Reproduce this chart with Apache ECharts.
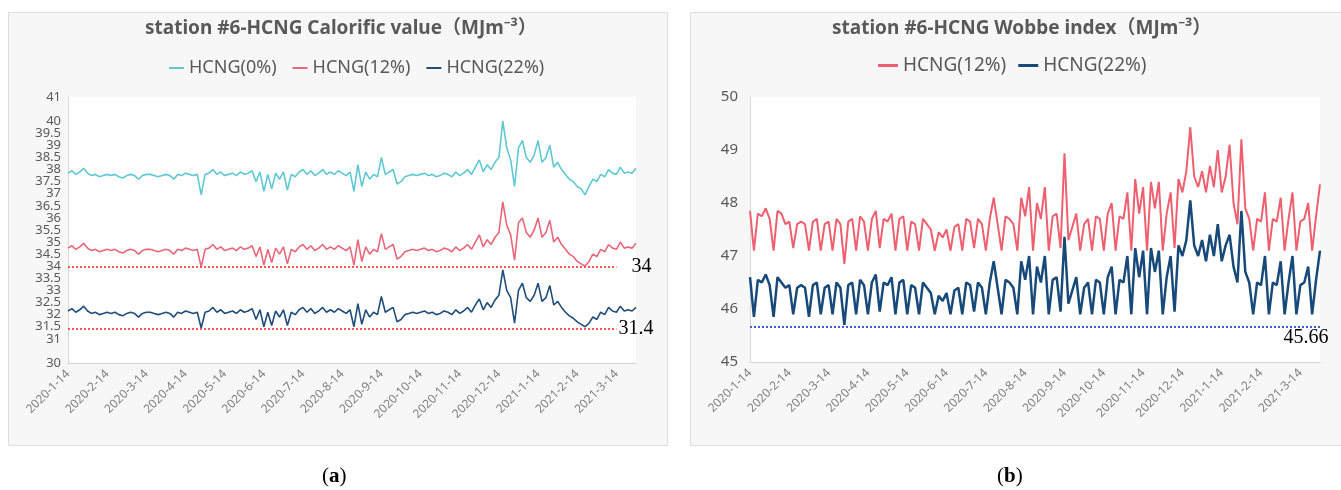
<!DOCTYPE html>
<html>
<head>
<meta charset="utf-8">
<script src="https://cdn.jsdelivr.net/npm/echarts@6/dist/echarts.min.js"></script>
<style>
  html, body { margin: 0; padding: 0; background: #ffffff; }
  #chart { width: 1341px; height: 490px; }
</style>
</head>
<body>
<div id="chart"></div>
<script>
// Month tick labels shown on both date axes
const monthTicks = ['2020-1-14', '2020-2-14', '2020-3-14', '2020-4-14', '2020-5-14', '2020-6-14',
  '2020-7-14', '2020-8-14', '2020-9-14', '2020-10-14', '2020-11-14', '2020-12-14',
  '2021-1-14', '2021-2-14', '2021-3-14'];

// Sample dates: every 3 days from the 14th of each month (146 samples)
const sampleCount = 146;
const categories = [];
monthTicks.forEach(function (t) {
  const p = t.split('-').map(Number);
  for (let j = 0; j < 10 && categories.length < sampleCount; j++) {
    const d = new Date(p[0], p[1] - 1, 14 + 3 * j);
    categories.push(d.getFullYear() + '-' + (d.getMonth() + 1) + '-' + d.getDate());
  }
});

// (a) Calorific value, MJ/m3
const calHCNG0 = [
  37.85, 37.95, 37.8, 37.9, 38.05, 37.85, 37.75, 37.8, 37.7, 37.75, 37.8,
  37.75, 37.8, 37.7, 37.65, 37.75, 37.8, 37.75, 37.6, 37.75, 37.8,
  37.8, 37.75, 37.7, 37.75, 37.8, 37.75, 37.6, 37.8, 37.75, 37.85, 37.8, 37.75, 37.8,
  36.95,
  37.8, 37.85, 38.0, 37.8, 37.9, 37.75, 37.8, 37.85, 37.75, 37.9, 37.8,
  37.85, 37.95, 37.5, 37.9, 37.1, 37.8, 37.2, 37.85, 37.6, 37.9, 37.15,
  37.8, 37.7, 37.9, 38.0, 37.8, 37.95, 37.75, 37.85, 38.0, 37.8,
  37.9, 37.8, 37.95, 37.85, 37.75, 37.9, 37.1,
  38.2, 37.3, 37.9, 37.6, 37.8, 37.7,
  38.5,
  37.8, 37.9, 38.0, 37.4, 37.5, 37.7,
  37.75, 37.8, 37.75, 37.8, 37.85, 37.75, 37.8, 37.7, 37.75, 37.85, 37.8, 37.7, 37.9, 37.75, 37.85, 38.0, 37.8,
  38.1, 38.4, 37.9, 38.2, 38.0, 38.3, 38.5, 40.0, 38.9, 38.4, 37.3, 38.9, 39.2, 38.5, 38.3, 38.6, 39.2, 38.3, 38.5, 39.0, 38.1, 38.3,
  38.0, 37.8, 37.6, 37.5, 37.3, 37.2, 36.95, 37.3, 37.6, 37.5,
  37.8, 37.7, 38.0, 37.85, 37.8, 38.1, 37.85, 37.9, 37.85, 38.05
];
const calHCNG12 = [
  34.75, 34.85, 34.7, 34.8, 34.95, 34.75, 34.65, 34.7, 34.6, 34.65, 34.7,
  34.65, 34.7, 34.6, 34.55, 34.65, 34.7, 34.65, 34.5, 34.65, 34.7,
  34.7, 34.65, 34.6, 34.65, 34.7, 34.65, 34.5, 34.7, 34.65, 34.75, 34.7, 34.65, 34.7,
  33.97,
  34.7, 34.75, 34.9, 34.7, 34.8, 34.65, 34.7, 34.75, 34.65, 34.8, 34.7,
  34.75, 34.85, 34.4, 34.8, 34.05, 34.7, 34.15, 34.75, 34.5, 34.8, 34.1,
  34.7, 34.6, 34.8, 34.9, 34.7, 34.85, 34.65, 34.75, 34.9, 34.7,
  34.8, 34.7, 34.85, 34.75, 34.65, 34.8, 34.05,
  35.1, 34.2, 34.8, 34.5, 34.7, 34.6,
  35.35,
  34.7, 34.8, 34.9, 34.3, 34.4, 34.6,
  34.65, 34.7, 34.65, 34.7, 34.75, 34.65, 34.7, 34.6, 34.65, 34.75, 34.7, 34.6, 34.8, 34.65, 34.75, 34.9, 34.7,
  35.0, 35.3, 34.8, 35.1, 34.9, 35.2, 35.4, 36.66, 35.7, 35.3, 34.25, 35.8, 36.0, 35.4, 35.2, 35.5, 36.0, 35.2, 35.4, 35.9, 35.0, 35.2,
  34.9, 34.7, 34.5, 34.4, 34.2, 34.1, 34.0, 34.2, 34.5, 34.4,
  34.7, 34.6, 34.9, 34.75, 34.7, 35.0, 34.75, 34.8, 34.75, 34.95
];
const calHCNG22 = [
  32.15, 32.25, 32.1, 32.2, 32.35, 32.15, 32.05, 32.1, 32.0, 32.05, 32.1,
  32.05, 32.1, 32.0, 31.95, 32.05, 32.1, 32.05, 31.9, 32.05, 32.1,
  32.1, 32.05, 32.0, 32.05, 32.1, 32.05, 31.9, 32.1, 32.05, 32.15, 32.1, 32.05, 32.1,
  31.45,
  32.1, 32.15, 32.3, 32.1, 32.2, 32.05, 32.1, 32.15, 32.05, 32.2, 32.1,
  32.15, 32.25, 31.8, 32.2, 31.5, 32.1, 31.55, 32.15, 31.9, 32.2, 31.55,
  32.1, 32.0, 32.2, 32.3, 32.1, 32.25, 32.05, 32.15, 32.3, 32.1,
  32.2, 32.1, 32.25, 32.15, 32.05, 32.2, 31.5,
  32.45, 31.6, 32.2, 31.9, 32.1, 32.0,
  32.75,
  32.1, 32.2, 32.3, 31.7, 31.8, 32.0,
  32.05, 32.1, 32.05, 32.1, 32.15, 32.05, 32.1, 32.0, 32.05, 32.15, 32.1, 32.0, 32.2, 32.05, 32.15, 32.3, 32.1,
  32.4, 32.65, 32.2, 32.5, 32.3, 32.6, 32.8, 33.85, 33.0, 32.7, 31.65, 33.0, 33.3, 32.7, 32.55, 32.8, 33.3, 32.55, 32.7, 33.2, 32.4, 32.55,
  32.3, 32.1, 31.95, 31.85, 31.7, 31.6, 31.5, 31.65, 31.9, 31.8,
  32.1, 32.0, 32.3, 32.15, 32.1, 32.35, 32.15, 32.2, 32.15, 32.3
];
const calLimit12 = 34;
const calLimit22 = 31.4;

// (b) Wobbe index, MJ/m3
const wobHCNG12 = [
  47.85, 47.1, 47.8, 47.75, 47.9, 47.7, 47.1, 47.85, 47.8,
  47.6, 47.65, 47.15, 47.6, 47.65, 47.6, 47.1, 47.65, 47.7, 47.1, 47.6, 47.65,
  47.1, 47.7, 47.6, 46.85, 47.65, 47.7, 47.1, 47.75, 47.65, 47.1,
  47.7, 47.85, 47.15, 47.7, 47.65, 47.8, 47.1, 47.7, 47.75, 47.1, 47.65, 47.6, 47.1, 47.7, 47.6,
  47.5, 47.1, 47.45, 47.35, 47.5, 47.1, 47.55, 47.6, 47.1, 47.7, 47.65, 47.15, 47.7, 47.6, 47.1,
  47.7, 48.1, 47.6, 47.1, 47.75, 47.7, 47.6, 47.1, 48.1, 47.75, 48.3, 47.1, 48.0, 47.7, 48.3, 47.1, 47.75, 47.8, 47.15, 48.94,
  47.3, 47.55, 47.8, 47.1, 47.6, 47.7, 47.1, 47.75, 47.7, 47.1, 47.8, 48.0, 47.1, 47.75, 47.7,
  48.2, 47.1, 48.45, 47.8, 48.3, 47.1, 48.4, 47.9, 48.4, 47.1, 47.8, 48.2, 47.15, 48.45, 48.2,
  48.6, 49.43, 48.5, 48.3, 48.6, 48.2, 48.7, 48.3, 49.0, 48.2, 48.5, 49.1, 48.0, 47.6, 49.2, 47.9, 47.7, 47.1, 47.7,
  47.65, 48.2, 47.1, 47.7, 47.65, 48.1, 47.1, 47.7, 48.2, 47.1, 47.65, 47.7, 48.0, 47.1, 47.75, 48.35
];
const wobHCNG22 = [
  46.6, 45.85, 46.55, 46.5, 46.65, 46.45, 45.85, 46.6, 46.5,
  46.4, 46.45, 45.9, 46.4, 46.45, 46.4, 45.85, 46.45, 46.5, 45.9, 46.4, 46.45,
  45.9, 46.5, 46.4, 45.7, 46.45, 46.5, 45.9, 46.55, 46.45, 45.9,
  46.5, 46.65, 45.95, 46.5, 46.45, 46.6, 45.9, 46.5, 46.55, 45.9, 46.45, 46.4, 45.9, 46.5, 46.4,
  46.3, 45.9, 46.25, 46.15, 46.3, 45.9, 46.35, 46.4, 45.9, 46.5, 46.45, 45.95, 46.5, 46.4, 45.9,
  46.5, 46.9, 46.4, 45.9, 46.55, 46.5, 46.4, 45.9, 46.9, 46.55, 47.0, 45.9, 46.8, 46.5, 47.0, 45.9, 46.55, 46.6, 45.95, 47.36,
  46.1, 46.35, 46.6, 45.9, 46.4, 46.5, 45.9, 46.55, 46.5, 45.9, 46.6, 46.8, 45.9, 46.55, 46.5,
  47.0, 45.9, 47.15, 46.6, 47.1, 45.9, 47.15, 46.7, 47.1, 45.9, 46.6, 47.0, 45.95, 47.2, 47.0,
  47.3, 48.05, 47.2, 47.0, 47.3, 46.9, 47.4, 47.0, 47.6, 46.9, 47.2, 47.4, 46.8, 46.5, 47.85, 46.7, 46.5, 45.9, 46.5,
  46.45, 47.0, 45.9, 46.5, 46.45, 46.9, 45.9, 46.5, 47.0, 45.9, 46.45, 46.5, 46.8, 45.9, 46.55, 47.1
];
const wobLimit22 = 45.66;

const textFont = '"Noto Sans", "Noto Sans CJK SC", sans-serif';
const serifFont = '"Liberation Serif", "DejaVu Serif", serif';

function dateAxis(gridIndex) {
  return {
    type: 'category', gridIndex: gridIndex, data: categories, boundaryGap: false,
    axisLine: { show: true, lineStyle: { color: '#d4d4d4', width: 1 } },
    axisTick: { show: false },
    splitLine: { show: false },
    axisLabel: {
      interval: 9, rotate: 45, margin: 9, color: '#7f7f7f',
      fontFamily: textFont, fontSize: 12
    }
  };
}

function lineSeries(name, data, color, width, axisIdx, extra) {
  return Object.assign({
    name: name, type: 'line', data: data, xAxisIndex: axisIdx, yAxisIndex: axisIdx,
    symbol: 'none', showSymbol: false, smooth: false,
    lineStyle: { color: color, width: width }, itemStyle: { color: color }
  }, extra || {});
}

const chart = echarts.init(document.getElementById('chart'), null, { renderer: 'canvas' });

chart.setOption({
  animation: false,
  backgroundColor: '#ffffff',
  title: [
    {
      text: 'station #6-HCNG Calorific value（MJm⁻³）', left: 140, top: 14,
      textStyle: { fontFamily: textFont, fontSize: 19, fontWeight: 'bold', color: '#595959' }
    },
    {
      text: 'station #6-HCNG Wobbe index（MJm⁻³）', left: 827, top: 14,
      textStyle: { fontFamily: textFont, fontSize: 19, fontWeight: 'bold', color: '#595959' }
    }
  ],
  legend: [
    {
      data: ['HCNG(0%)', 'HCNG(12%)', 'HCNG(22%)'].map(function (n) { return { name: n }; }),
      left: 164, top: 54, icon: 'rect', itemWidth: 15, itemHeight: 2, itemGap: 16,
      textStyle: { fontFamily: textFont, fontSize: 18, color: '#595959' },
      selectedMode: false
    },
    {
      data: [{ name: 'HCNG(12%) ' }, { name: 'HCNG(22%) ' }],
      left: 873, top: 51, icon: 'rect', itemWidth: 20, itemHeight: 3, itemGap: 12,
      textStyle: { fontFamily: textFont, fontSize: 19, color: '#595959' },
      formatter: function (n) { return n.trim(); },
      selectedMode: false
    }
  ],
  grid: [
    { left: 68, top: 97, width: 568, height: 266, show: true, backgroundColor: '#ffffff', borderWidth: 0 },
    { left: 750, top: 97, width: 570, height: 265, show: true, backgroundColor: '#ffffff', borderWidth: 0 }
  ],
  xAxis: [dateAxis(0), dateAxis(1)],
  yAxis: [
    {
      type: 'value', gridIndex: 0, min: 30, max: 41, interval: 0.5,
      axisLine: { show: true, lineStyle: { color: '#d9d9d9' } },
      axisTick: { show: false }, splitLine: { show: false },
      axisLabel: { margin: 7, color: '#595959', fontFamily: textFont, fontSize: 13,
        showMinLabel: true, showMaxLabel: true, hideOverlap: false }
    },
    {
      type: 'value', gridIndex: 1, min: 45, max: 50, interval: 1,
      axisLine: { show: true, lineStyle: { color: '#d9d9d9' } },
      axisTick: { show: false }, splitLine: { show: false },
      axisLabel: { margin: 12, color: '#595959', fontFamily: textFont, fontSize: 15,
        showMinLabel: true, showMaxLabel: true }
    }
  ],
  graphic: [
    { type: 'rect', z: -10, shape: { x: 8.5, y: 12.5, width: 659, height: 433 },
      style: { fill: '#f7f7f7', stroke: '#dedede', lineWidth: 1 } },
    { type: 'rect', z: -10, shape: { x: 690.5, y: 12.5, width: 660, height: 433 },
      style: { fill: '#f7f7f7', stroke: '#dedede', lineWidth: 1 } },
    { type: 'text', left: 322, top: 466,
      style: { text: '({b|a})', font: '21px ' + serifFont, fill: '#000000',
        rich: { b: { fontFamily: serifFont, fontSize: 21, fontWeight: 'bold', fill: '#000000' } } } },
    { type: 'text', left: 997, top: 466,
      style: { text: '({b|b})', font: '21px ' + serifFont, fill: '#000000',
        rich: { b: { fontFamily: serifFont, fontSize: 21, fontWeight: 'bold', fill: '#000000' } } } }
  ],
  series: [
    lineSeries('HCNG(0%)', calHCNG0, '#5ec8d3', 1.6, 0),
    lineSeries('HCNG(12%)', calHCNG12, '#e8677b', 1.6, 0, {
      markLine: {
        silent: true, symbol: 'none',
        lineStyle: { type: 'dotted', color: '#f25555', width: 2 },
        label: { show: true, position: 'end', color: '#000000', fontFamily: serifFont, fontSize: 20 },
        data: [
          [{ coord: [0, calLimit12], label: { formatter: String(calLimit12), distance: 15 } },
           { coord: [140, calLimit12] }],
          [{ coord: [0, calLimit22], label: { formatter: String(calLimit22), distance: 2 } },
           { coord: [140, calLimit22] }]
        ]
      }
    }),
    lineSeries('HCNG(22%)', calHCNG22, '#1f4e7b', 1.6, 0),
    lineSeries('HCNG(12%) ', wobHCNG12, '#ee6070', 2, 1),
    lineSeries('HCNG(22%) ', wobHCNG22, '#174a78', 2.5, 1, {
      markLine: {
        silent: true, symbol: 'none',
        lineStyle: { type: 'dotted', color: '#3d63d4', width: 2 },
        label: { show: false },
        data: [{ yAxis: wobLimit22 }]
      },
      markPoint: {
        silent: true, symbol: 'rect', symbolSize: 1,
        itemStyle: { color: 'rgba(0,0,0,0)' },
        label: { show: true, position: 'inside', offset: [-14, 11], formatter: String(wobLimit22),
          color: '#000000', fontFamily: serifFont, fontSize: 20 },
        data: [{ coord: [145, wobLimit22] }]
      }
    })
  ]
});
</script>
</body>
</html>
